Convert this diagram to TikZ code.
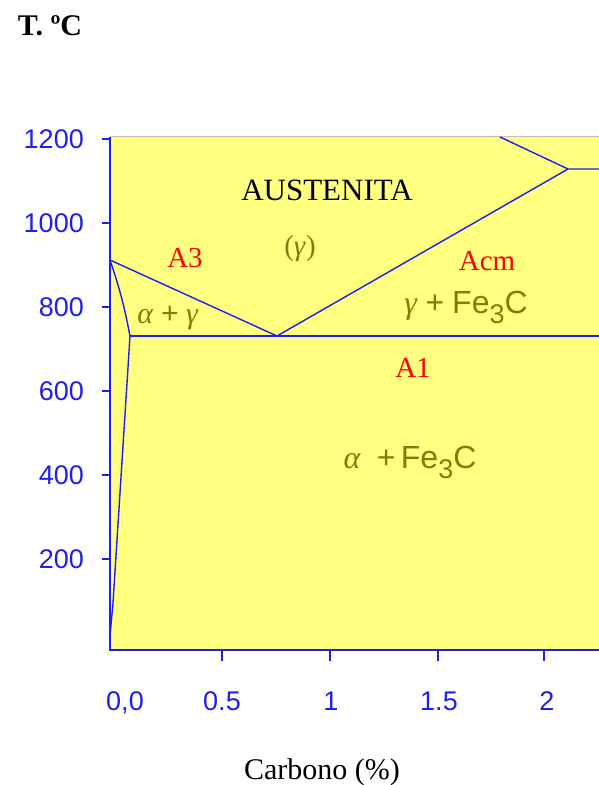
\documentclass[tikz,border=0pt]{standalone}
\usepackage{fontspec}
\setmainfont{Liberation Serif}
\setsansfont{Liberation Sans}
\usetikzlibrary{positioning}
\definecolor{amarillo}{RGB}{255,255,128}
\definecolor{azul}{RGB}{30,30,240}
\definecolor{oliva}{RGB}{128,128,0}
\definecolor{rojo}{RGB}{255,0,0}
\definecolor{grisb}{RGB}{190,190,190}
\newcommand{\fetc}{\textsf{Fe\raisebox{-0.32em}{\fontsize{27}{27}\selectfont 3}C}}
\newcommand{\alf}{\textit{α}}
\newcommand{\gam}{\textit{γ}}
\tikzset{
  lin/.style={azul, line width=1.4pt},
  eje/.style={azul, line width=1.6pt},
  num/.style={text=azul, font=\sffamily\fontsize{27}{27}\selectfont, inner sep=0pt},
  temp/.style={text=rojo, font=\fontsize{29}{29}\selectfont, inner sep=0pt, anchor=base},
  fase/.style={text=oliva, font=\fontsize{32}{32}\selectfont, inner sep=0pt, anchor=base},
  rot/.style={text=black, font=\fontsize{31}{31}\selectfont, inner sep=0pt, anchor=base},
}

\begin{document}
\begin{tikzpicture}[x=1pt, y=-1pt]
  \useasboundingbox (0,0) rectangle (599,785);
  % zona del diagrama
  \fill[amarillo] (110,137) rectangle (599,650);
  \draw[grisb, line width=1pt] (110,136) -- (599,136);
  % puntos del diagrama
  \coordinate (G) at (110,260);
  \coordinate (P) at (130,336);
  \coordinate (S) at (277,336);
  \coordinate (E) at (568,169);
  \coordinate (D) at (500,137);
  \coordinate (Q) at (113,603);
  \coordinate (O) at (110,636);
  \coordinate (Ed) at (599,169);
  \coordinate (Sd) at (599,336);
  \draw[lin] (G) -- (S) -- (E) -- (Ed);
  \draw[lin] (D) -- (E);
  \draw[lin] (P) -- (Sd);
  \draw[lin] (G) to[bend left=4] (P) -- (Q) -- (O);
  % ejes
  \draw[eje] (110,137) -- (110,650) -- (599,650);
  \foreach \y/\t in {139/1200,223/1000,307/800,391/600,475/400,559/200}{
    \draw[eje] (102,\y) -- (110,\y);
    \node[num, anchor=east] (y\t) at (84,\y) {\t};
  }
  \foreach \x in {222,330,438,544}{
    \draw[eje] (\x,650) -- (\x,661);
  }
  \node[num, anchor=base] (x0) at (125,710) {0,0};
  \node[num, anchor=base] (xa) at (222,710) {0.5};
  \node[num, anchor=base] (xb) at (331,710) {1};
  \node[num, anchor=base] (xc) at (439,710) {1.5};
  \node[num, anchor=base] (xd) at (547,710) {2};
  % textos
  \node[rot, font=\bfseries\fontsize{30}{30}\selectfont] (tc) at (50,35) {T. ºC};
  \node[rot] (aus) at (327,200) {AUSTENITA};
  \node[fase, font=\fontsize{29}{29}\selectfont] (gm) at (300,255) {(\gam)};
  \node[temp] (a3) at (185,267) {A3};
  \node[temp] (acm) at (487,270) {Acm};
  \node[temp] (a1) at (413,377) {A1};
  \node[fase, font=\fontsize{30}{30}\selectfont] (ag) at (168,323) {\alf{} \textsf{+} \gam};
  \node[fase] (gf) at (466,313) {\gam{} \textsf{+} \fetc};
  \node[fase] (af) at (410,468) {\alf{} \ \textsf{+}\,\fetc};
  \node[rot, font=\fontsize{30}{30}\selectfont] (car) at (322,779) {Carbono (\%)};
\end{tikzpicture}
\end{document}
